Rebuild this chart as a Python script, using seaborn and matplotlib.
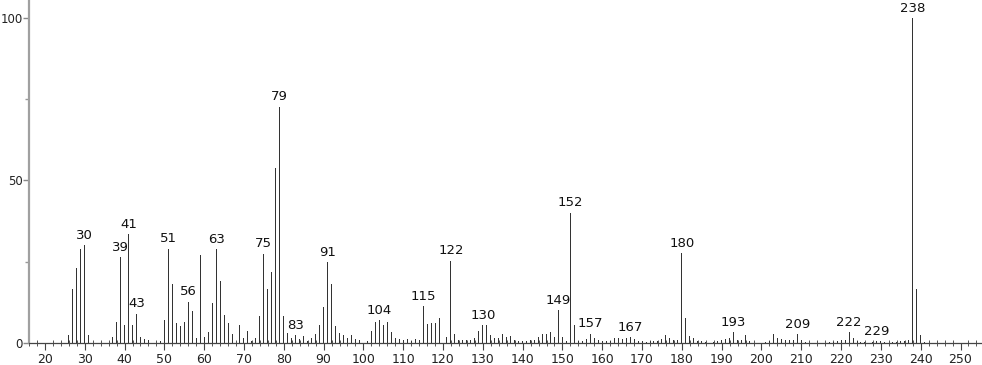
import matplotlib
matplotlib.use("Agg")
import matplotlib.pyplot as plt
import seaborn as sns
import pandas as pd
from matplotlib.ticker import MultipleLocator, FixedLocator

# m/z values and relative intensities
mz = [26, 27, 28, 29, 30, 31, 37, 38, 39, 40, 41, 42, 43, 44, 45, 46, 49, 50,
      51, 52, 53, 54, 55, 56, 57, 58, 59, 60, 61, 62, 63, 64, 65, 66, 67, 68,
      69, 70, 71, 72, 73, 74, 75, 76, 77, 78, 79, 80, 81, 82, 83, 84, 85, 86,
      87, 88, 89, 90, 91, 92, 93, 94, 95, 96, 97, 98, 99, 101, 102, 103, 104,
      105, 106, 107, 108, 109, 110, 111, 112, 113, 114, 115, 116, 117, 118,
      119, 120, 121, 122, 123, 124, 125, 126, 127, 128, 129, 130, 131, 132,
      133, 134, 135, 136, 137, 138, 139, 140, 141, 142, 143, 144, 145, 146,
      147, 148, 149, 150, 151, 152, 153, 154, 155, 156, 157, 158, 159, 160,
      161, 162, 163, 164, 165, 166, 167, 168, 169, 170, 171, 172, 173, 174,
      175, 176, 177, 178, 179, 180, 181, 182, 183, 184, 185, 186, 188, 189,
      190, 191, 192, 193, 194, 195, 196, 197, 201, 202, 203, 204, 205, 206,
      207, 208, 209, 210, 211, 217, 218, 219, 220, 221, 222, 223, 224, 225,
      226, 228, 229, 230, 231, 233, 234, 235, 236, 237, 238, 239, 240, 241]

intensity = [2.5, 16.6, 23.0, 29.0, 30.0, 2.4, 1.8, 6.5, 26.5, 5.5, 33.6, 5.6,
             9.0, 1.8, 1.3, 0.8, 0.5, 7.0,
             29.0, 18.0, 6.2, 5.1, 6.5, 12.7, 9.8, 1.6, 27.1, 1.9, 3.4, 12.4,
             28.8, 19.1, 8.6, 6.2, 2.9, 3.7,
             5.5, 1.6, 3.6, 0.6, 1.4, 8.2, 27.5, 16.5, 21.9, 53.9, 72.7, 8.4,
             3.0, 1.4, 2.4, 1.2, 2.0, 0.6,
             1.4, 2.8, 5.5, 11.0, 24.8, 18.2, 5.3, 3.0, 2.6, 1.4, 2.4, 1.2, 0.9,
             0.7, 3.8, 6.4, 7.1,
             5.5, 6.4, 3.5, 1.5, 1.3, 0.8, 1.2, 0.6, 1.2, 0.8, 11.4, 5.7, 6.3,
             6.3,
             7.8, 2.2, 1.8, 25.3, 2.8, 0.8, 1.0, 0.8, 1.0, 1.5, 3.8, 5.6, 5.4,
             2.6,
             1.5, 1.4, 2.9, 1.7, 2.0, 1.0, 0.6, 0.6, 0.6, 1.0, 0.8, 1.9, 2.9,
             2.7,
             3.5, 1.7, 10.2, 1.8, 0.6, 40.1, 5.4, 0.7, 0.7, 1.1, 2.9, 1.6, 0.9,
             0.7,
             0.7, 0.5, 1.6, 1.4, 1.3, 1.6, 1.9, 1.1, 0.5, 0.5, 0.3, 0.5, 0.6,
             0.7,
             1.3, 2.4, 1.5, 0.9, 0.8, 27.6, 7.8, 2.0, 1.5, 0.7, 0.7, 0.3, 0.4,
             0.7,
             0.8, 1.2, 1.4, 3.3, 1.0, 0.8, 2.4, 0.5, 0.4, 0.5, 2.7, 1.6, 1.2,
             0.8,
             0.8, 1.0, 2.8, 0.8, 0.3, 0.3, 0.4, 0.6, 0.9, 1.0, 3.3, 1.5, 0.6,
             0.4,
             0.3, 0.4, 0.5, 0.5, 0.3, 0.3, 0.4, 0.5, 0.6, 0.8, 100.0, 16.6, 2.5,
             0.3]

labeled_peaks = [30, 39, 41, 43, 51, 56, 63, 75, 79, 83, 91, 104, 115, 122,
                 130, 149, 152, 157, 167, 180, 193, 209, 222, 229, 238]

x_ticks = list(range(20, 251, 10))
y_ticks = [0, 50, 100]

sns.set_theme(style="white")
plt.rcParams["font.family"] = ["DejaVu Sans"]

fig = plt.figure(figsize=(9.82, 3.65), dpi=100)
ax = fig.add_axes([29 / 982, 22 / 365, 953 / 982, 343 / 365])

df = pd.DataFrame({"mz": mz, "intensity": intensity})
sns.barplot(data=df, x="mz", y="intensity", native_scale=True, width=0.25,
            color="#333333", saturation=1, errorbar=None, linewidth=0, ax=ax)

ax.set_xlim(16, 255.4)
ax.set_ylim(0, 105.5)
ax.set_xlabel("")
ax.set_ylabel("")

lookup = dict(zip(mz, intensity))
for p in labeled_peaks:
    ax.text(p, lookup[p] + 1.0, str(p), ha="center", va="bottom",
            fontsize=9.5, color="#111111")

ax.xaxis.set_major_locator(FixedLocator(x_ticks))
ax.xaxis.set_minor_locator(MultipleLocator(2))
ax.yaxis.set_major_locator(FixedLocator(y_ticks))
ax.yaxis.set_minor_locator(FixedLocator([25, 75]))

ax.tick_params(axis="x", which="major", direction="out", length=5, width=0.8,
               color="#444444", labelsize=9, labelcolor="#222222", pad=2,
               bottom=True)
ax.tick_params(axis="x", which="minor", direction="inout", length=4,
               width=0.7, color="#555555", bottom=True)
ax.tick_params(axis="y", which="major", direction="out", length=4, width=1,
               color="#888888", labelsize=8.5, labelcolor="#222222", pad=0.5,
               left=True)
ax.tick_params(axis="y", which="minor", direction="out", length=3, width=1,
               color="#999999", left=True)

sns.despine(ax=ax, top=True, right=True)
ax.spines["left"].set_color("#a0a0a0")
ax.spines["left"].set_linewidth(1.6)
ax.spines["bottom"].set_color("#444444")
ax.spines["bottom"].set_linewidth(0.9)
ax.set_facecolor("white")
fig.patch.set_facecolor("white")

fig.savefig("out.png", dpi=100, facecolor="white")
